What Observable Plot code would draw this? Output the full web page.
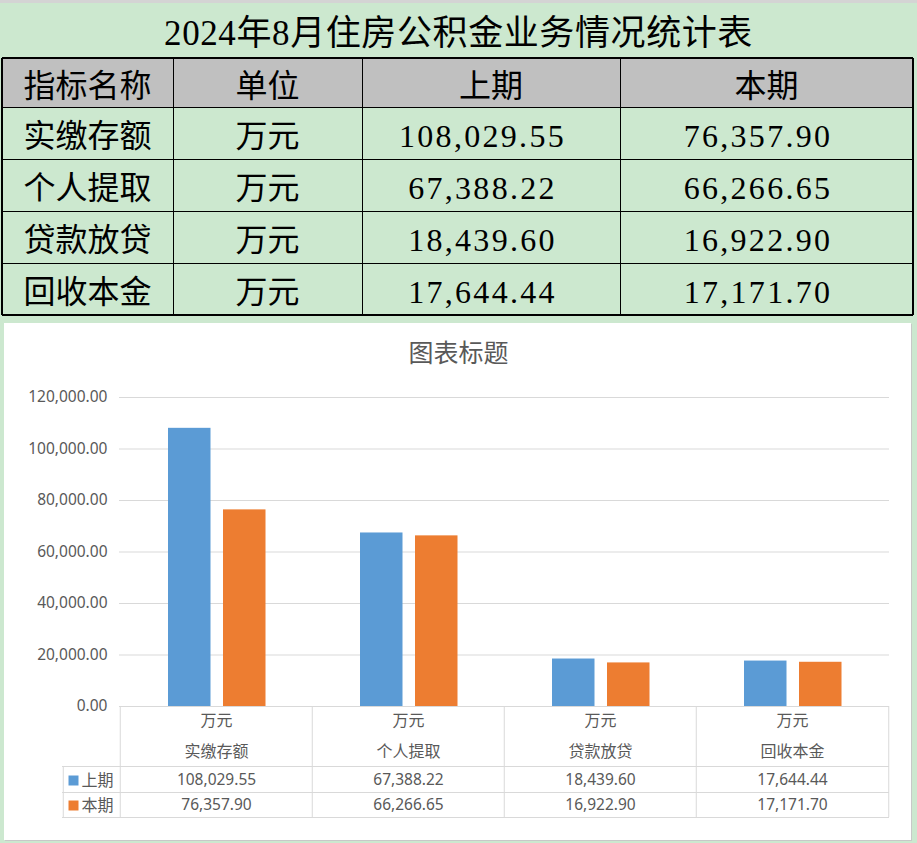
<!DOCTYPE html>
<html>
<head>
<meta charset="utf-8">
<script src="https://cdn.jsdelivr.net/npm/d3@7"></script>
<script src="https://cdn.jsdelivr.net/npm/@observablehq/plot@0.6"></script>
<style>
html,body{margin:0;padding:0;}
body{width:917px;height:843px;background:#cce8cf;position:relative;overflow:hidden;font-family:"Liberation Serif","Noto Sans CJK SC",serif;color:#000;}
#topline{position:absolute;left:0;top:0;width:917px;height:3px;background:#d4d4d4;}
#title{position:absolute;left:0;top:5px;width:917px;height:58px;line-height:58px;text-align:center;font-size:35px;letter-spacing:0.6px;white-space:nowrap;}
.cell{position:absolute;box-sizing:border-box;text-align:center;font-size:32px;white-space:nowrap;}
.head{background:#c0c0c0;}
.num{padding-right:17px;letter-spacing:2.3px;}
.hl{position:absolute;left:2px;width:911px;height:1px;background:#000;}
.vl{position:absolute;top:58px;height:257px;width:1px;background:#000;}
#chartbox{position:absolute;left:4px;top:323px;width:907px;height:517px;background:#fff;box-shadow:1px 1px 0 #c8c8c8;}
#chartbox svg{display:block;}
</style>
</head>
<body>
<div id="topline"></div>
<div id="title"></div>
<div id="tbl"></div>
<div id="chartbox"></div>
<script>
// ---- data ----
const tableTitle = "2024年8月住房公积金业务情况统计表";
const headers = ["指标名称", "单位", "上期", "本期"];
const categories = ["实缴存额", "个人提取", "贷款放贷", "回收本金"];
const units = ["万元", "万元", "万元", "万元"];
const series = ["上期", "本期"];
const prev = [108029.55, 67388.22, 18439.60, 17644.44];
const curr = [76357.90, 66266.65, 16922.90, 17171.70];
const yTicks = [0, 20000, 40000, 60000, 80000, 100000, 120000];
const chartTitle = "图表标题";

// ---- styles / layout ----
const colors = ["#5b9bd5", "#ed7d31"];
const gridC = "#d9d9d9";
const fmt = d3.format(",.2f");

// ---- top spreadsheet table ----
d3.select("#title").text(tableTitle);
const colEdges = [2, 173, 362, 620, 913];
const rowEdges = [58, 107, 159, 211, 263, 315];
const tbl = d3.select("#tbl");
const tableRows = [headers, ...categories.map((c, i) => [c, units[i], fmt(prev[i]), fmt(curr[i])])];
tableRows.forEach((r, ri) => r.forEach((t, ci) => {
  const h = rowEdges[ri + 1] - rowEdges[ri];
  tbl.append("div")
    .attr("class", "cell" + (ri === 0 ? " head" : "") + (ri > 0 && ci >= 2 ? " num" : ""))
    .style("left", colEdges[ci] + "px")
    .style("top", rowEdges[ri] + "px")
    .style("width", (colEdges[ci + 1] - colEdges[ci]) + "px")
    .style("height", h + "px")
    .style("line-height", (h + 7) + "px")
    .text(t);
}));
rowEdges.forEach((y, i) => tbl.append("div").attr("class", "hl")
  .style("top", (i === 0 || i === rowEdges.length - 1 ? y - 1 : y) + "px")
  .style("height", (i === 0 || i === rowEdges.length - 1 ? 2 : 1) + "px"));
colEdges.forEach((x, i) => tbl.append("div").attr("class", "vl")
  .style("left", (i === 0 || i === colEdges.length - 1 ? x - 1 : x) + "px")
  .style("width", (i === 0 || i === colEdges.length - 1 ? 2 : 1) + "px"));

// ---- chart ----
const W = 907, H = 517, mL = 115, mR = 22, mT = 74, mB = 134;
const bw = (W - mL - mR) / categories.length;
const rows = categories.map((c, i) => ({cat: c, unit: units[i], prev: prev[i], curr: curr[i]}));
const vals = [prev, curr];
const dyRows = [74, 99];

const chart = Plot.plot({
  width: W, height: H,
  marginTop: mT, marginBottom: mB, marginLeft: mL, marginRight: mR,
  style: {background: "transparent", color: "#595959", fontFamily: '"Noto Sans","Noto Sans CJK SC",sans-serif', fontSize: "15.5px", overflow: "visible"},
  x: {domain: categories, padding: 0, axis: null},
  y: {domain: [0, 120000], ticks: yTicks, tickFormat: fmt, tickSize: 0, tickPadding: 12, label: null},
  marks: [
    Plot.ruleY(yTicks, {stroke: gridC}),
    Plot.barY(rows, {x: "cat", y: "prev", fill: colors[0], insetLeft: 48, insetRight: bw - 91}),
    Plot.barY(rows, {x: "cat", y: "curr", fill: colors[1], insetLeft: 103, insetRight: bw - 146}),
    // data table grid
    Plot.ruleY([0], {dy: 60, insetLeft: -57, stroke: gridC}),
    Plot.ruleY([0], {dy: 86, insetLeft: -57, stroke: gridC}),
    Plot.ruleY([0], {dy: 111, insetLeft: -57, stroke: gridC}),
    Plot.ruleX(categories, {x: d => d, dx: -bw / 2, y1: 0, y2: 0, insetBottom: -111, stroke: gridC}),
    Plot.ruleX([categories[categories.length - 1]], {x: d => d, dx: bw / 2, y1: 0, y2: 0, insetBottom: -111, stroke: gridC}),
    Plot.ruleX([categories[0]], {x: d => d, dx: -bw / 2 - 57, y1: 0, y2: 0, insetTop: 60, insetBottom: -111, stroke: gridC}),
    // data table text
    Plot.text(rows, {x: "cat", frameAnchor: "bottom", lineAnchor: "middle", dy: 14, text: "unit", fontSize: 16}),
    Plot.text(rows, {x: "cat", frameAnchor: "bottom", lineAnchor: "middle", dy: 45, text: "cat", fontSize: 16}),
    ...series.map((s, i) => Plot.text(rows, {x: "cat", frameAnchor: "bottom", lineAnchor: "middle", dy: dyRows[i], text: (d, j) => fmt(vals[i][j])})),
    ...series.map((s, i) => Plot.dot([s], {frameAnchor: "bottom-left", dx: -46, dy: dyRows[i], symbol: "square", r: 5.64, fill: colors[i], stroke: null})),
    ...series.map((s, i) => Plot.text([s], {frameAnchor: "bottom-left", lineAnchor: "middle", dx: -38, dy: dyRows[i], text: d => d, textAnchor: "start", fontSize: 16})),
    // chart title
    Plot.text([chartTitle], {frameAnchor: "top", lineAnchor: "middle", dx: -46, dy: -44, text: d => d, fontSize: 25})
  ]
});
document.getElementById("chartbox").appendChild(chart);
</script>
</body>
</html>
